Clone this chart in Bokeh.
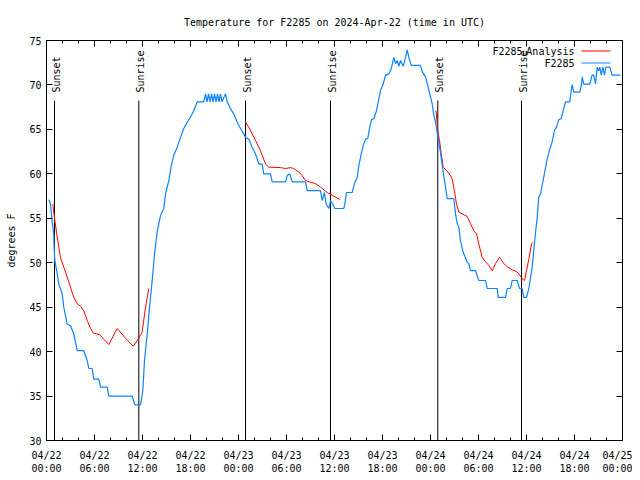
import math
from bokeh.plotting import figure
from bokeh.models import Range1d, FixedTicker, LinearAxis, Label, Arrow
from bokeh.core.properties import value
from bokeh.embed import file_html
from bokeh.resources import INLINE

# ---------------- data (hours after 2024-04-22 00:00 UTC, degrees F) -------
obs_hours = [0.29, 0.5, 0.71, 0.91, 0.95, 1.04, 1.34, 1.54, 1.96, 2.16,
             2.59, 3.0, 3.41, 3.84, 4.66, 5.09, 5.29, 5.71, 5.91, 6.54,
             6.75, 7.59, 7.79, 10.71, 11.04, 11.75, 12.04, 12.25, 12.59, 12.88,
             13.21, 13.5, 13.84, 14.25, 14.66, 14.88, 15.29, 15.59, 15.91, 16.34,
             16.75, 17.16, 17.59, 18.0, 18.41, 18.84, 19.66, 19.88, 20.06, 20.25,
             20.44, 20.63, 20.81, 21.0, 21.19, 21.38, 21.56, 21.75, 21.94, 22.38,
             22.59, 23.0, 23.41, 23.84, 24.25, 24.66, 24.88, 25.29, 25.71, 26.13,
             26.54, 26.96, 27.16, 28.0, 28.21, 29.88, 30.09, 30.41, 30.71, 32.38,
             32.59, 34.25, 34.46, 34.75, 34.96, 35.29, 35.5, 35.79, 36.04, 37.16,
             37.29, 37.5, 38.21, 38.5, 38.84, 39.04, 39.34, 39.59, 39.88, 40.16,
             40.41, 40.63, 40.91, 41.25, 41.75, 42.09, 42.38, 42.79, 43.09, 43.41,
             43.63, 43.84, 44.04, 44.25, 44.59, 44.88, 45.09, 45.29, 45.59, 46.75,
             46.96, 47.38, 47.66, 47.91, 48.21, 48.41, 48.63, 48.84, 49.04, 49.25,
             49.46, 49.66, 49.88, 50.09, 50.91, 51.13, 51.34, 51.54, 51.75, 51.96,
             52.16, 52.59, 52.79, 53.0, 53.63, 54.04, 54.88, 55.09, 56.34, 56.46,
             57.38, 57.59, 58.0, 58.21, 58.84, 59.13, 59.46, 59.66, 60.0, 60.29,
             60.71, 60.91, 61.13, 61.34, 61.54, 61.75, 62.13, 62.5, 62.91, 63.21,
             63.5, 63.75, 64.04, 64.34, 64.59, 64.88, 65.41, 65.59, 65.71, 65.91,
             66.66, 66.88, 66.96, 67.16, 67.91, 68.21, 68.41, 68.63, 68.84, 69.04,
             69.16, 69.34, 69.54, 69.75, 69.91, 70.41, 70.71, 71.75]
obs_temps = [57.1, 56.6, 54.6, 53.25, 51.75, 50.25, 48.75, 47.6, 46.5, 45.0,
             43.1, 42.9, 42.0, 40.1, 40.1, 39.0, 38.1, 38.1, 36.9, 36.9,
             36.0, 36.0, 35.0, 35.0, 34.0, 34.0, 35.6, 39.0, 42.0, 45.0,
             48.0, 51.0, 53.5, 55.3, 56.1, 57.75, 59.25, 60.9, 62.1, 63.0,
             64.1, 65.1, 65.8, 66.4, 67.1, 68.1, 68.1, 69.0, 68.1, 69.0,
             68.1, 69.0, 68.1, 69.0, 68.1, 69.0, 68.1, 69.0, 68.1, 69.0,
             68.1, 67.3, 66.75, 65.8, 65.1, 64.5, 64.1, 63.9, 63.0, 62.25,
             61.1, 61.1, 60.0, 60.0, 59.1, 59.1, 59.8, 60.0, 59.1, 59.1,
             58.1, 58.1, 57.0, 57.9, 56.6, 56.1, 57.0, 56.6, 56.1, 56.1,
             56.6, 57.9, 57.9, 58.9, 59.6, 60.9, 62.25, 63.2, 63.9, 64.0,
             65.25, 66.1, 66.2, 67.1, 69.4, 70.1, 71.1, 71.25, 71.8, 73.1,
             72.4, 72.75, 72.1, 72.75, 72.1, 73.1, 73.95, 73.1, 72.2, 72.2,
             71.5, 70.9, 69.9, 69.0, 67.9, 66.6, 65.8, 64.6, 63.5, 62.4,
             61.0, 59.8, 58.5, 57.2, 57.2, 55.5, 54.4, 54.0, 52.5, 51.6,
             51.0, 50.05, 49.9, 49.1, 49.1, 48.0, 48.0, 47.1, 47.1, 46.1,
             46.1, 47.1, 47.1, 48.0, 48.0, 47.1, 47.1, 46.1, 46.1, 47.1,
             49.5, 51.4, 53.4, 55.1, 57.4, 57.75, 59.5, 61.3, 62.8, 63.6,
             64.9, 65.25, 66.1, 66.2, 67.1, 68.1, 68.1, 69.4, 70.05, 69.2,
             69.2, 70.05, 70.9, 70.1, 70.1, 71.1, 71.1, 70.1, 72.0, 71.6,
             72.0, 71.1, 72.0, 71.1, 72.0, 72.0, 71.1, 71.1]

ana1_hours = [0.79, 1.04, 1.34, 1.54, 1.75, 2.16, 2.59, 3.0, 3.41, 3.84,
              4.25, 4.66, 5.09, 5.5, 5.84, 6.66, 7.16, 7.79, 8.84, 9.88,
              10.84, 11.54, 11.96, 12.38, 12.79]
ana1_temps = [56.6, 54.75, 52.9, 51.75, 50.6, 49.5, 48.4, 47.25, 46.1, 45.4,
              45.1, 44.6, 43.5, 42.6, 42.1, 41.9, 41.4, 40.8, 42.6, 41.5,
              40.6, 41.5, 42.2, 45.0, 47.1]
ana2_hours = [24.88, 25.29, 25.71, 26.13, 26.54, 26.96, 27.38, 27.79, 29.25, 29.88,
              30.5, 30.91, 31.54, 31.96, 32.38, 32.79, 33.63, 34.25, 35.09, 35.71,
              36.13, 36.66]
ana2_temps = [65.8, 65.25, 64.5, 63.75, 63.0, 62.1, 61.1, 60.75, 60.7, 60.6,
              60.7, 60.6, 60.2, 59.8, 59.25, 59.1, 58.9, 58.5, 57.9, 57.6,
              57.4, 57.1]
ana3_hours = [48.69, 48.91, 49.13, 49.34, 49.59, 50.0, 50.5, 50.71, 50.91, 51.25,
              51.54, 51.96, 52.59, 53.0, 53.41, 53.75, 54.04, 54.46, 54.88, 55.29,
              55.71, 56.13, 56.63, 57.16, 57.66, 58.21, 58.75, 59.04, 59.46, 59.75,
              60.0, 60.29, 60.63, 60.79]
ana3_temps = [67.1, 64.9, 63.75, 62.25, 60.75, 60.4, 59.8, 59.4, 58.5, 56.6,
              55.7, 55.5, 55.2, 54.4, 53.6, 53.25, 52.1, 50.6, 50.1, 49.7,
              49.1, 49.9, 50.6, 49.9, 49.5, 49.2, 49.0, 48.75, 48.2, 48.0,
              49.1, 50.4, 52.1, 52.3]

sunset_hours = [1.0, 24.875, 48.91]
sunrise_hours = [11.54, 35.5, 59.375]

tick_hours = [0, 6, 12, 18, 24, 30, 36, 42, 48, 54, 60, 66, 72]
tick_dates = ["04/22", "04/22", "04/22", "04/22", "04/23", "04/23", "04/23",
              "04/23", "04/24", "04/24", "04/24", "04/24", "04/25"]
tick_times = ["00:00", "06:00", "12:00", "18:00", "00:00", "06:00", "12:00",
              "18:00", "00:00", "06:00", "12:00", "18:00", "00:00"]
minor_hours = list(range(0, 73, 2))
temp_ticks = [30, 35, 40, 45, 50, 55, 60, 65, 70, 75]

# ---------------- styling ----------------
FONT = "DejaVu Sans Mono"
RED = "#ff0000"
BLUE = "#0a84ff"
X0, X1 = 0, 72
Y0, Y1 = 30, 75

p = figure(width=632, height=478, output_backend="svg", toolbar_location=None,
           x_range=Range1d(X0, X1), y_range=Range1d(Y0, Y1),
           min_border_left=46, min_border_right=10,
           min_border_top=40, min_border_bottom=38,
           title="Temperature for F2285 on 2024-Apr-22 (time in UTC)")
p.grid.visible = False
p.outline_line_color = "black"
p.outline_line_width = 1
p.background_fill_color = "white"
p.border_fill_color = "white"

p.title.text_font = FONT
p.title.text_font_size = "10px"
p.title.text_font_style = "normal"
p.title.text_color = "black"
p.title.align = "center"
p.title.standoff = 26

xt = FixedTicker(ticks=tick_hours, minor_ticks=minor_hours)
yt = FixedTicker(ticks=temp_ticks, minor_ticks=[])

xa = p.xaxis[0]
xa.ticker = xt
xa.major_label_overrides = {h: f"{d}\n{t}" for h, d, t in zip(tick_hours, tick_dates, tick_times)}
ya = p.yaxis[0]
ya.ticker = yt
ya.axis_label = "degrees F"

for ax in (xa, ya):
    ax.axis_line_color = "black"
    ax.major_tick_line_color = "black"
    ax.minor_tick_line_color = "black"
    ax.major_tick_in = 6
    ax.major_tick_out = 0
    ax.minor_tick_in = 3
    ax.minor_tick_out = 0
    ax.major_label_text_font = FONT
    ax.major_label_text_font_size = "10px"
    ax.major_label_text_color = "black"
    ax.axis_label_text_font = FONT
    ax.axis_label_text_font_size = "10px"
    ax.axis_label_text_font_style = "normal"
    ax.axis_label_text_color = "black"
xa.major_label_standoff = 9
xa.major_label_text_line_height = 1.2
ya.major_label_standoff = 5
ya.axis_label_standoff = 9


def mirror_axis(ticks, length):
    # tick marks only (drawn as minor ticks so that no labels are produced)
    return LinearAxis(ticker=FixedTicker(ticks=[], minor_ticks=ticks),
                      major_tick_in=0, major_tick_out=0,
                      minor_tick_in=length, minor_tick_out=0,
                      minor_tick_line_color="black", axis_line_color="black",
                      major_label_standoff=0, axis_label_standoff=0)


p.add_layout(mirror_axis(tick_hours, 6), "above")
p.add_layout(mirror_axis(minor_hours, 3), "above")
p.add_layout(mirror_axis(temp_ticks, 6), "right")

# sunrise / sunset markers (gnuplot style: line to 85% of graph, label at 87%)
sun_x = []
sun_txt = []
for a, b in zip(sunset_hours, sunrise_hours):
    sun_x += [a, b]
    sun_txt += ["Sunset", "Sunrise"]
line_top = Y0 + 0.85 * (Y1 - Y0)
label_y = Y0 + 0.87 * (Y1 - Y0)
p.segment(x0=sun_x, y0=[Y0] * len(sun_x), x1=sun_x, y1=[line_top] * len(sun_x),
          line_color="black", line_width=1)
p.text(x=sun_x, y=[label_y] * len(sun_x), text=sun_txt, angle=math.pi / 2,
       text_font=value(FONT), text_font_size="10px", text_color="black",
       text_align="left", text_baseline="middle", x_offset=2)

# data
for hh, tt in ((ana1_hours, ana1_temps), (ana2_hours, ana2_temps), (ana3_hours, ana3_temps)):
    p.line(hh, tt, line_color=RED, line_width=1)
p.line(obs_hours, obs_temps, line_color=BLUE, line_width=1.2)

# key (gnuplot style: text right-justified, line sample on the right)
p.add_layout(Arrow(end=None, x_start=535, y_start=389.5, x_end=564, y_end=389.5,
                   start_units="screen", end_units="screen",
                   line_color=RED, line_width=1))
p.add_layout(Arrow(end=None, x_start=535, y_start=377.5, x_end=564, y_end=377.5,
                   start_units="screen", end_units="screen",
                   line_color=BLUE, line_width=1.2))

lab_kw = dict(x_units="screen", y_units="screen", text_font=FONT,
              text_font_size="10px", text_color="black", text_baseline="middle")
p.add_layout(Label(x=528, y=389, text="Analysis", text_align="right", **lab_kw))
p.add_layout(Label(x=476, y=389, text="F2285", text_align="right", **lab_kw))
p.add_layout(Label(x=476, y=387, text="u", text_align="left",
                   x_units="screen", y_units="screen", text_font=FONT,
                   text_font_size="8px", text_color="black", text_baseline="middle"))
p.add_layout(Label(x=528, y=377, text="F2285", text_align="right", **lab_kw))

open("out.html", "w").write(file_html(p, INLINE))
